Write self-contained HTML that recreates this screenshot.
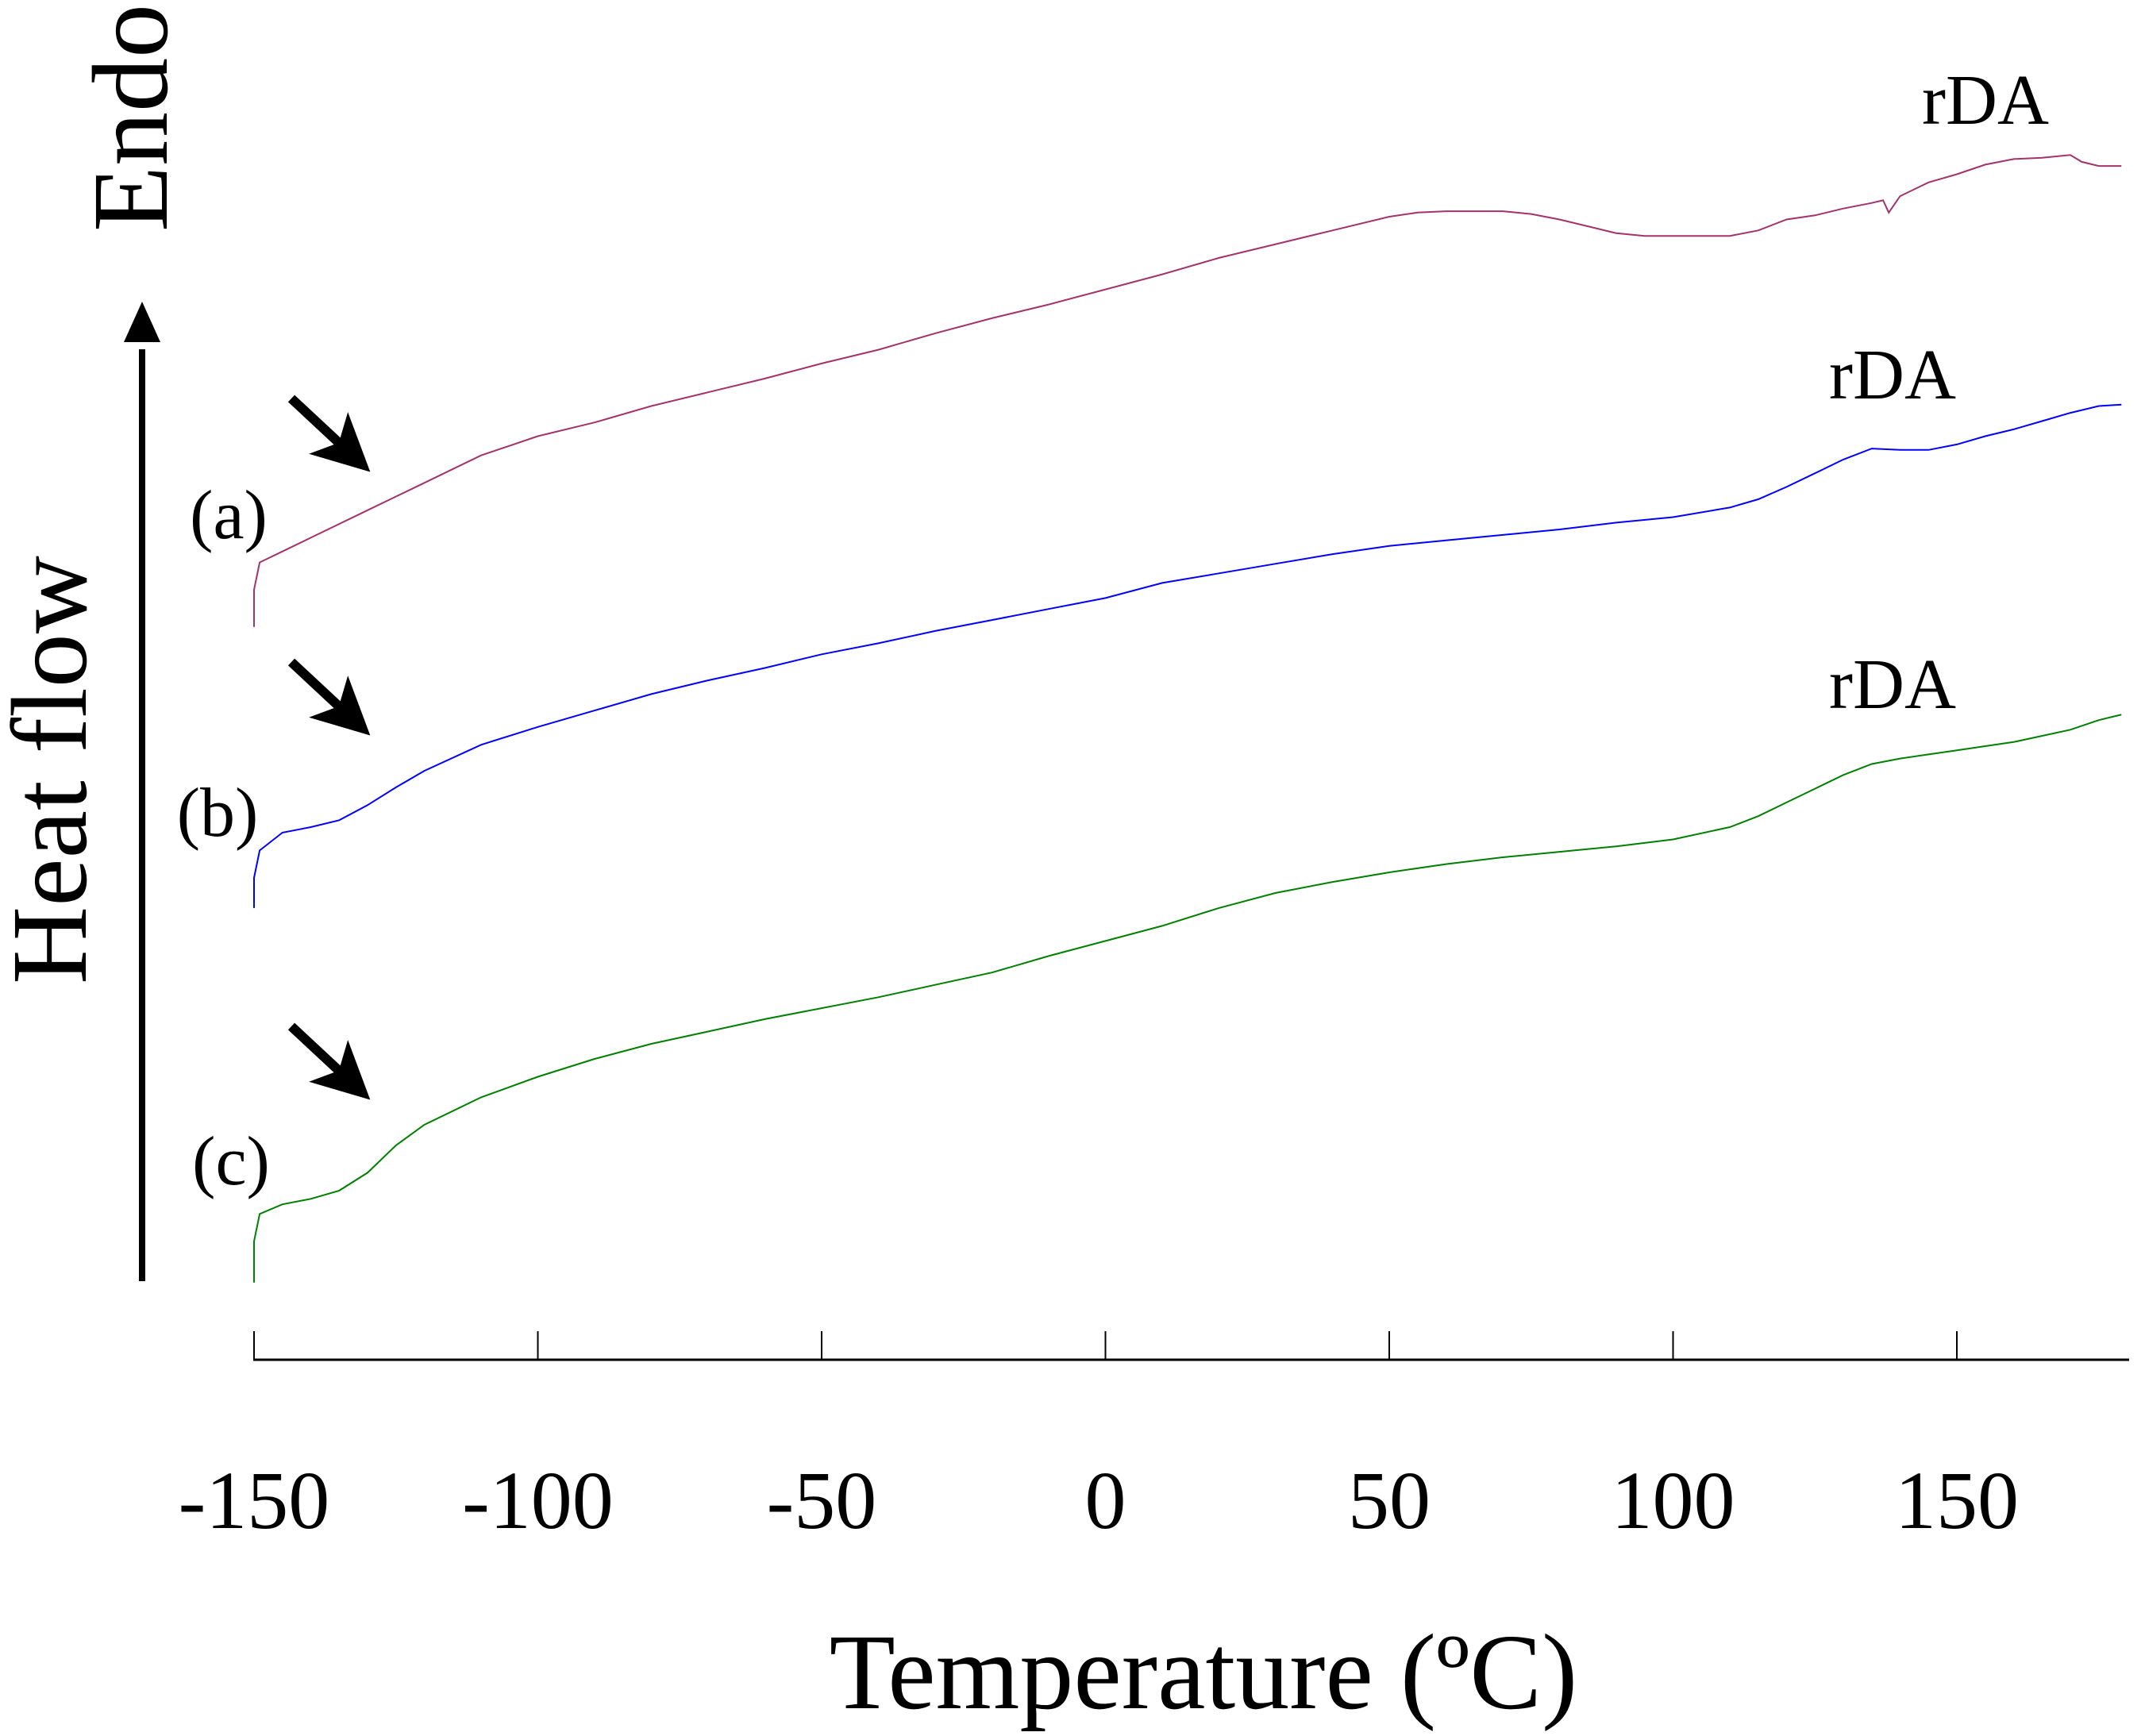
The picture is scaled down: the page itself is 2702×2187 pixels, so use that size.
<!DOCTYPE html>
<html><head><meta charset="utf-8"><style>
html,body{margin:0;padding:0;background:#fff;}
svg{display:block;font-family:"Liberation Serif",serif;}
</style></head><body>
<svg id="chart" width="2702" height="2187" viewBox="0 0 2702 2187" xmlns="http://www.w3.org/2000/svg">
<defs>
<marker id="ah" markerWidth="6" markerHeight="6" refX="3" refY="3" orient="auto" markerUnits="strokeWidth"><path d="M0,0 L6,3 L0,6 L1.5,3 z" fill="#000"/></marker>
</defs>
<g id="axis"></g>
<g id="curves"></g>
<line x1="179" y1="1614" x2="179" y2="440" stroke="#000" stroke-width="8"/>
<polygon points="179,380 156,431 202,431" fill="#000"/>
<text transform="translate(210,292) rotate(-90)" font-size="136">Endo</text>
<text transform="translate(108,1240) rotate(-90)" font-size="136">Heat flow</text>
<text x="1516" y="2152" font-size="136" text-anchor="middle">Temperature (ºC)</text>
<text x="288" y="678" font-size="88" text-anchor="middle">(a)</text>
<text x="274" y="1053" font-size="88" text-anchor="middle">(b)</text>
<text x="291" y="1492" font-size="88" text-anchor="middle">(c)</text>
<text x="2421" y="156" font-size="90">rDA</text>
<text x="2304" y="502" font-size="90">rDA</text>
<text x="2304" y="892" font-size="90">rDA</text>
<line x1="367" y1="502" x2="440" y2="570" stroke="#000" stroke-width="12" marker-end="url(#ah)"/>
<line x1="367" y1="834" x2="440" y2="902" stroke="#000" stroke-width="12" marker-end="url(#ah)"/>
<line x1="367" y1="1293" x2="440" y2="1361" stroke="#000" stroke-width="12" marker-end="url(#ah)"/>
</svg>
<script>
const tickLabels = [-150,-100,-50,0,50,100,150];
const tempsA = [-150,-150,-149,-145,-140,-130,-120,-110,-100,-90,-80,-70,-60,-50,-40,-30,-20,-10,0,10,20,30,40,50,55,60,70,75,80,85,90,95,100,110,115,120,125,130,135,137,138,140,145,150,155,160,165,170,172,175,179];
const valuesA = [457,430,410,402,392,372,352,332,318,308,296,286,276,265,255,243,232,222,211,200,188,178,168,158,155,154,154,156,160,165,170,172,172,172,168,160,157,152,148,146,155,143,133,127,120,116,115,113,118,121,121];
const tempsB = [-150,-150,-149,-145,-140,-135,-130,-125,-120,-110,-100,-90,-80,-70,-60,-50,-40,-30,-20,-10,0,10,20,30,40,50,60,70,80,90,100,110,115,120,125,130,135,140,145,150,155,160,165,170,175,179];
const valuesB = [662,640,620,607,603,598,587,574,562,543,530,518,506,496,487,477,469,460,452,444,436,425,418,411,404,398,394,390,386,381,377,370,364,355,345,335,327,328,328,324,318,313,307,301,296,295];
const tempsC = [-150,-150,-149,-145,-140,-135,-130,-125,-120,-110,-100,-90,-80,-70,-60,-50,-40,-30,-20,-10,0,10,20,30,40,50,60,70,80,90,100,110,115,120,125,130,135,140,145,150,160,170,175,179];
const valuesC = [935,905,885,878,874,868,855,835,820,800,785,772,761,752,743,735,727,718,709,697,686,675,662,651,643,636,630,625,621,617,612,603,595,585,575,565,557,553,550,547,541,532,525,521];

const NS='http://www.w3.org/2000/svg';
function xScale(t){return 320 + (t+150)*7.15;}
function yScale(v){return v*1.728;}
const axis=document.getElementById('axis');
const base=document.createElementNS(NS,'line');
base.setAttribute('x1',319);base.setAttribute('x2',2682);base.setAttribute('y1',1713);base.setAttribute('y2',1713);
base.setAttribute('stroke','#000');base.setAttribute('stroke-width','3');


axis.appendChild(base);
tickLabels.forEach(t=>{
  const l=document.createElementNS(NS,'line');
  l.setAttribute('x1',xScale(t));l.setAttribute('x2',xScale(t));l.setAttribute('y1',1677);l.setAttribute('y2',1713);
  l.setAttribute('stroke','#000');l.setAttribute('stroke-width','2');
  
  
  axis.appendChild(l);
  const tx=document.createElementNS(NS,'text');
  tx.setAttribute('x',xScale(t));tx.setAttribute('y',1925);tx.setAttribute('font-size','104');tx.setAttribute('text-anchor','middle');
  tx.textContent=t;
  
  
  axis.appendChild(tx);
});
const curves=document.getElementById('curves');
function draw(ts,vs,color,name){
  let pts=[];
  for(let i=0;i<ts.length;i++){pts.push(xScale(ts[i]).toFixed(1)+','+yScale(vs[i]).toFixed(1));}
  const p=document.createElementNS(NS,'polyline');
  p.setAttribute('points',pts.join(' '));
  p.setAttribute('fill','none');p.setAttribute('stroke',color);p.setAttribute('stroke-width','2');
  
  
  curves.appendChild(p);
}
draw(tempsA,valuesA,'#a3336b','curve-a');
draw(tempsB,valuesB,'#0000ff','curve-b');
draw(tempsC,valuesC,'#008000','curve-c');
</script>
</body></html>
